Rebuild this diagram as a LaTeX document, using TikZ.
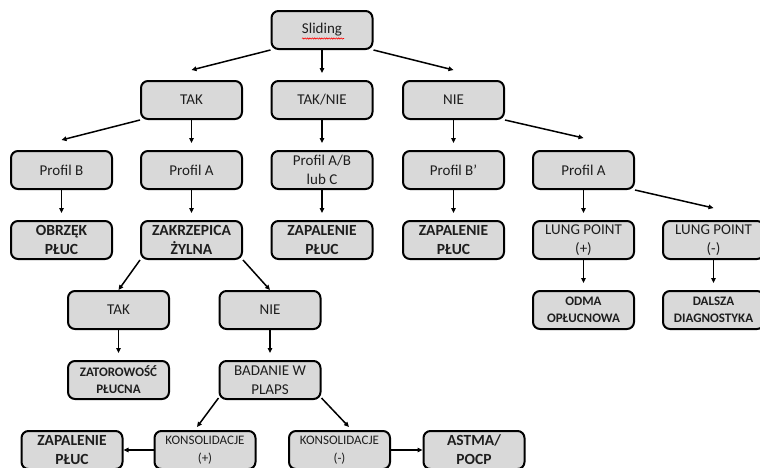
\documentclass[tikz,border=0pt]{standalone}
\usepackage{fontspec}
\setmainfont{Carlito}
\usetikzlibrary{arrows.meta,calc,decorations.pathmorphing}
\definecolor{boxfill}{HTML}{D9D9D9}
\definecolor{txt}{HTML}{1E1E1E}
\tikzset{
  box/.style={draw=black, fill=boxfill, line width=2pt, rounded corners=7pt,
    minimum width=101pt, minimum height=38pt, inner sep=1pt, align=center,
    text=txt, font=\fontsize{15}{19}\selectfont},
  boldbox/.style={box, font=\fontsize{15.5}{19}\selectfont\bfseries},
  smallbold/.style={box, font=\fontsize{13}{17}\selectfont\bfseries},
  smallbox/.style={box, font=\fontsize{13}{18}\selectfont},
  arr/.style={line width=1.5pt, -{Triangle[length=5pt,width=4.5pt]}},
}
\begin{document}
\begin{tikzpicture}[x=1pt,y=-1pt]
\useasboundingbox (0,0) rectangle (760,467);
\fill[white] (0,0) rectangle (760,467);
\clip (0,0) rectangle (760,467);
% level 0
\node[box] (Sliding) at (322,30) {Sliding};
% level 1
\node[box] (TAK) at (191.5,100) {TAK};
\node[box] (TAKNIE) at (322,100) {TAK/NIE};
\node[box] (NIE) at (453.5,100) {NIE};
% level 2
\node[box] (ProfilB) at (61.5,170) {Profil B};
\node[box] (ProfilA) at (191.5,170) {Profil A};
\node[box] (ProfilABC) at (322,170) {Profil A/B\\lub C};
\node[box] (ProfilBp) at (453.5,170) {Profil B’};
\node[box] (ProfilAr) at (583.5,170) {Profil A};
% level 3
\node[boldbox] (Obrzek) at (61.5,240) {OBRZĘK\\PŁUC};
\node[boldbox] (Zakrz) at (191.5,240) {ZAKRZEPICA\\ŻYLNA};
\node[boldbox] (ZapA) at (322,240) {ZAPALENIE\\PŁUC};
\node[boldbox] (ZapB) at (453.5,240) {ZAPALENIE\\PŁUC};
\node[box] (LPp) at (583.5,240) {LUNG POINT\\(+)};
\node[box] (LPm) at (713.5,240) {LUNG POINT\\(-)};
% level 4
\node[smallbold] (Odma) at (583.5,310) {ODMA\\OPŁUCNOWA};
\node[smallbold] (Dalsza) at (713.5,310) {DALSZA\\DIAGNOSTYKA};
\node[box] (TAKb) at (118.5,310) {TAK};
\node[box] (NIEb) at (270,310) {NIE};
% level 5
\node[smallbold] (Zator) at (118.5,380) {ZATOROWOŚĆ\\PŁUCNA};
\node[box] (Badanie) at (270,380) {BADANIE W\\PLAPS};
% level 6
\node[boldbox] (ZapC) at (72,450) {ZAPALENIE\\PŁUC};
\node[smallbox] (KonsP) at (205,450) {KONSOLIDACJE\\(+)};
\node[smallbox] (KonsM) at (339.5,450) {KONSOLIDACJE\\(-)};
\node[boldbox] (Astma) at (474,450) {ASTMA/\\POCP};
% spell-check squiggle
\coordinate (sqA) at (302,38.5);
\coordinate (sqB) at (344,38.5);
\draw[red, line width=0.6pt, decorate, decoration={snake, amplitude=0.6pt, segment length=2.4pt}] (sqA) -- (sqB);
% connectors
\draw[arr] (Sliding.south west) -- ($(TAK.north)+(0,-10)$);
\draw[arr] (Sliding.south) -- ($(TAKNIE.north)+(0,-7)$);
\draw[arr] (Sliding.south east) -- ($(NIE.north)+(0,-10)$);
\draw[arr] (TAK.south west) -- ($(ProfilB.north)+(0,-10)$);
\draw[arr] (TAK.south) -- ($(ProfilA.north)+(0,-7)$);
\draw[arr] (TAKNIE.south) -- ($(ProfilABC.north)+(0,-7)$);
\draw[arr] (NIE.south) -- ($(ProfilBp.north)+(0,-7)$);
\draw[arr] (NIE.south east) -- ($(ProfilAr.north)+(0,-12)$);
\draw[arr] (ProfilB.south) -- ($(Obrzek.north)+(0,-7)$);
\draw[arr] (ProfilA.south) -- ($(Zakrz.north)+(0,-7)$);
\draw[arr] (ProfilABC.south) -- ($(ZapA.north)+(0,-7)$);
\draw[arr] (ProfilBp.south) -- ($(ZapB.north)+(0,-7)$);
\draw[arr] (ProfilAr.south) -- ($(LPp.north)+(0,-7)$);
\draw[arr] (ProfilAr.south east) -- ($(LPm.north)+(0,-12)$);
\draw[arr] (LPp.south) -- ($(Odma.north)+(0,-7)$);
\draw[arr] (LPm.south) -- ($(Dalsza.north)+(0,-7)$);
\draw[arr] (Zakrz.south west) -- (TAKb.north);
\draw[arr] (Zakrz.south east) -- (NIEb.north);
\draw[arr] (TAKb.south) -- ($(Zator.north)+(0,-7)$);
\draw[arr] (NIEb.south) -- ($(Badanie.north)+(0,-7)$);
\draw[arr] ($(Badanie.south west)+(0,-2)$) -- ($(KonsP.north)+(-8,-3)$);
\draw[arr] ($(Badanie.south east)+(0,-2)$) -- ($(KonsM.north)+(9.5,-3)$);
\draw[arr] (KonsP.west) -- (ZapC.east);
\draw[arr] (KonsM.east) -- (Astma.west);
\end{tikzpicture}
\end{document}
